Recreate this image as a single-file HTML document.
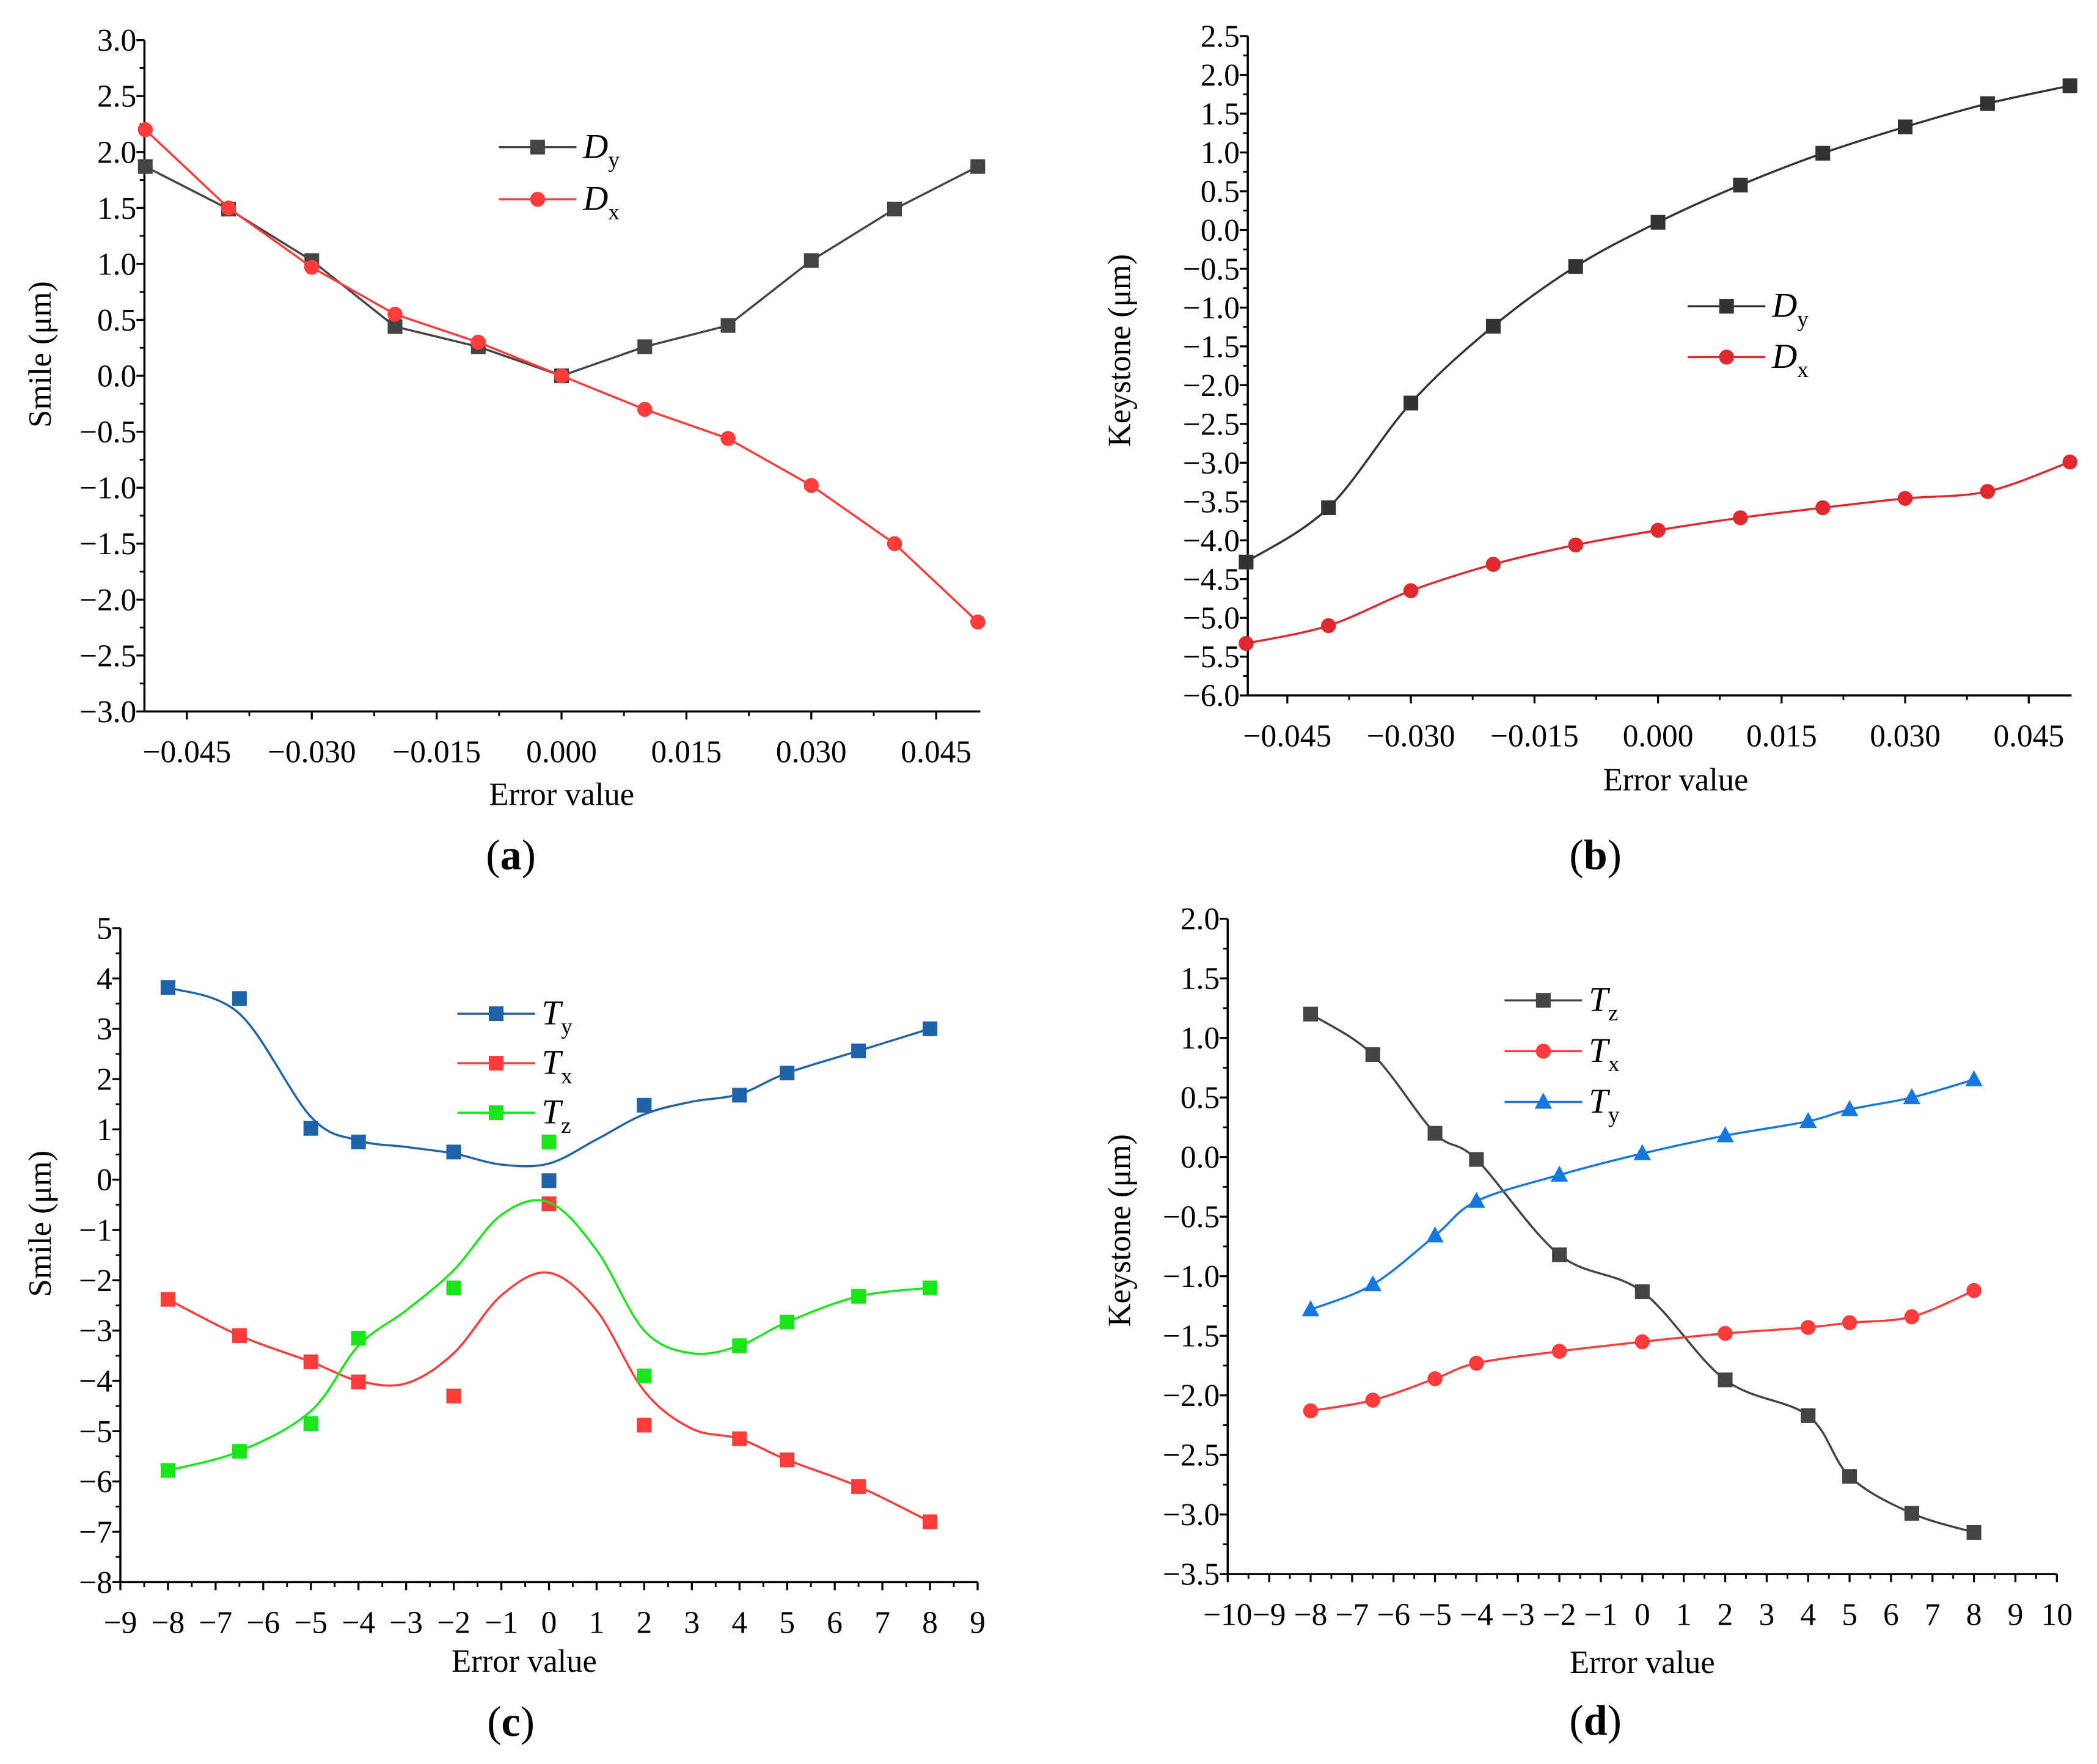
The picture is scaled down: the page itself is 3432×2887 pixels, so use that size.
<!DOCTYPE html>
<html><head><meta charset="utf-8">
<style>
html,body{margin:0;padding:0;background:#fff;}
svg{display:block;font-family:"Liberation Serif","Times New Roman",serif;}
svg text{font-family:"Liberation Serif","Times New Roman",serif;fill:#000;}
</style></head>
<body>
<svg id="fig" width="3432" height="2887" viewBox="0 0 1568 1319" preserveAspectRatio="none" xmlns="http://www.w3.org/2000/svg" font-family="Liberation Serif, serif">
<rect width="1568" height="1319" fill="#fff"/>
</svg>
<script>
// ---- Panel (a) data ----
const aX = [-0.05,-0.04,-0.03,-0.02,-0.01,0,0.01,0.02,0.03,0.04,0.05];
const aDy = [1.87,1.49,1.03,0.44,0.26,0,0.26,0.45,1.03,1.49,1.87];
const aDx = [2.2,1.5,0.97,0.55,0.3,0,-0.3,-0.56,-0.98,-1.5,-2.2];
const aXTicks = [-0.045,-0.030,-0.015,0,0.015,0.030,0.045];
const aXTickLabels = ["−0.045","−0.030","−0.015","0.000","0.015","0.030","0.045"];
const aYTicks = [3,2.5,2,1.5,1,0.5,0,-0.5,-1,-1.5,-2,-2.5,-3];
// ---- Panel (b) data ----
const bX = [-0.05,-0.04,-0.03,-0.02,-0.01,0,0.01,0.02,0.03,0.04,0.05];
const bDy = [-4.28,-3.58,-2.23,-1.24,-0.47,0.1,0.58,0.99,1.33,1.63,1.86];
const bDx = [-5.33,-5.1,-4.65,-4.31,-4.06,-3.87,-3.71,-3.58,-3.46,-3.37,-2.99];
const bYTicks = [2.5,2,1.5,1,0.5,0,-0.5,-1,-1.5,-2,-2.5,-3,-3.5,-4,-4.5,-5,-5.5,-6];
// ---- Panel (c) data ----
const cX = [-8,-6.5,-5,-4,-2,0,2,4,5,6.5,8];
const cTy = [3.82,3.6,1.02,0.75,0.55,-0.02,1.48,1.68,2.12,2.56,3.0];
const cTx = [-2.38,-3.1,-3.62,-4.02,-4.3,-0.48,-4.88,-5.15,-5.57,-6.1,-6.8];
const cTz = [-5.78,-5.4,-4.85,-3.15,-2.15,0.75,-3.9,-3.3,-2.83,-2.32,-2.15];
const cFitX = [-8,-6.5,-5,-4,-3,-2,-1,0,1,2,3,4,5,6.5,8];
const cFitTy = [3.82,3.3,1.25,0.78,0.65,0.52,0.3,0.32,0.8,1.3,1.55,1.7,2.12,2.56,3.0];
const cFitTx = [-2.38,-3.1,-3.62,-4.0,-4.05,-3.45,-2.3,-1.85,-2.6,-4.2,-4.95,-5.15,-5.57,-6.1,-6.8];
const cFitTz = [-5.78,-5.4,-4.6,-3.3,-2.6,-1.8,-0.7,-0.45,-1.4,-3.0,-3.45,-3.3,-2.83,-2.32,-2.15];
const cXTicks = [-9,-8,-7,-6,-5,-4,-3,-2,-1,0,1,2,3,4,5,6,7,8,9];
const cYTicks = [5,4,3,2,1,0,-1,-2,-3,-4,-5,-6,-7,-8];
// ---- Panel (d) data ----
const dX = [-8,-6.5,-5,-4,-2,0,2,4,5,6.5,8];
const dTz = [1.2,0.86,0.2,-0.02,-0.82,-1.13,-1.87,-2.17,-2.68,-2.99,-3.15];
const dTx = [-2.13,-2.04,-1.86,-1.73,-1.63,-1.55,-1.48,-1.43,-1.39,-1.34,-1.12];
const dTy = [-1.28,-1.07,-0.66,-0.37,-0.15,0.03,0.18,0.3,0.4,0.5,0.65];
const dXTicks = [-10,-9,-8,-7,-6,-5,-4,-3,-2,-1,0,1,2,3,4,5,6,7,8,9,10];
const dYTicks = [2,1.5,1,0.5,0,-0.5,-1,-1.5,-2,-2.5,-3,-3.5];

const NS="http://www.w3.org/2000/svg";
const FONT="Liberation Serif, Times New Roman, serif";
const svg=document.getElementById('fig');
function el(tag,attrs,parent){const e=document.createElementNS(NS,tag);for(const k in attrs)e.setAttribute(k,attrs[k]);if(tag==='text')e.setAttribute('font-family',FONT);(parent||svg).appendChild(e);return e;}
function fmtNum(v,dec){const s=Math.abs(v).toFixed(dec);return (v<0?"−":"")+s;}

function makeAxes(g,o){
  const sx=v=>o.x0+(v-o.xmin)/(o.xmax-o.xmin)*(o.x1-o.x0);
  const sy=v=>o.y1-(v-o.ymin)/(o.ymax-o.ymin)*(o.y1-o.y0);
  const ax=el('g',{},g);
  
  
  el('line',{x1:o.x0,y1:o.y0,x2:o.x0,y2:o.y1,stroke:'#000','stroke-width':1.6},ax);
  el('line',{x1:o.x0,y1:o.y1,x2:o.x1,y2:o.y1,stroke:'#000','stroke-width':1.6},ax);
  o.yTicks.forEach((v,i)=>{
    const y=sy(v);
    el('line',{x1:o.x0-6,y1:y,x2:o.x0,y2:y,stroke:'#000','stroke-width':1.5},ax);
    const t=el('text',{x:o.x0-6,y:y+8,'text-anchor':'end','font-size':23.5},ax);
    
    
    t.textContent=fmtNum(v,o.yDec);
    if(i<o.yTicks.length-1){const m=sy((v+o.yTicks[i+1])/2);el('line',{x1:o.x0-3.5,y1:m,x2:o.x0,y2:m,stroke:'#000','stroke-width':1.3},ax);}
  });
  o.xTicks.forEach((v,i)=>{
    const x=sx(v);
    el('line',{x1:x,y1:o.y1,x2:x,y2:o.y1+6,stroke:'#000','stroke-width':1.5},ax);
    const t=el('text',{x:x,y:o.y1+38,'text-anchor':'middle','font-size':23.5},ax);
    
    
    t.textContent=o.xLabels?o.xLabels[i]:fmtNum(v,0);
    if(i<o.xTicks.length-1){const m=sx((v+o.xTicks[i+1])/2);el('line',{x1:m,y1:o.y1,x2:m,y2:o.y1+3.5,stroke:'#000','stroke-width':1.3},ax);}
  });
  return {sx,sy};
}
function pathStr(xs,ys,sx,sy,smooth){
  const p=xs.map((x,i)=>[sx(x),sy(ys[i])]);
  if(!smooth)return "M"+p.map(q=>q.join(",")).join("L");
  let d="M"+p[0].join(",");
  for(let i=0;i<p.length-1;i++){
    const p0=p[i-1]||p[i],p1=p[i],p2=p[i+1],p3=p[i+2]||p[i+1];
    const c1=[p1[0]+(p2[0]-p0[0])/6,p1[1]+(p2[1]-p0[1])/6];
    const c2=[p2[0]-(p3[0]-p1[0])/6,p2[1]-(p3[1]-p1[1])/6];
    d+="C"+c1.join(",")+" "+c2.join(",")+" "+p2.join(",");
  }
  return d;
}
function marker(g,type,x,y,color){
  let m;
  if(type==='sq')m=el('rect',{x:x-5.5,y:y-5.5,width:11,height:11,fill:color},g);
  else if(type==='ci')m=el('circle',{cx:x,cy:y,r:5.6,fill:color},g);
  else m=el('polygon',{points:`${x},${y-7} ${x-6.5},${y+5} ${x+6.5},${y+5}`,fill:color},g);
  
  
}
function series(g,name,xs,ys,sc,color,mk,smooth,fitX,fitY){
  const s=el('g',{},g);
  
  
  const ln=el('path',{d:pathStr(fitX||xs,fitY||ys,sc.sx,sc.sy,smooth),fill:'none',stroke:color,'stroke-width':1.6},s);
  
  
  xs.forEach((x,i)=>marker(s,mk,sc.sx(x),sc.sy(ys[i]),color));
}
function legend(g,x,y,entries){
  const lg=el('g',{},g);
  
  
  entries.forEach((e,i)=>{
    const yy=y+i*e.dy;
    const en=el('g',{},lg);
    
    
    el('line',{x1:x,y1:yy,x2:x+58,y2:yy,stroke:e.color,'stroke-width':1.6},en);
    marker(en,e.mk,x+29,yy,e.color);
    const t=el('text',{x:x+63,y:yy+8,'font-size':26,'font-style':'italic'},en);
    t.textContent=e.main;
    const s=el('tspan',{'font-size':17,'font-style':'normal',dy:7},t);
    s.textContent=e.sub;
  });
}
function titles(g,xt,xtx,xty,yt,ytx,yty,lab,labx,laby){
  const t1=el('text',{x:xtx,y:xty,'text-anchor':'middle','font-size':24},g);
  t1.textContent=xt;
  const t2=el('text',{x:ytx,y:yty,'text-anchor':'middle','font-size':24,transform:`rotate(-90 ${ytx} ${yty})`},g);
  t2.textContent=yt;
  const t3=el('text',{x:labx,y:laby,'text-anchor':'middle','font-size':32},g);
  
  t3.appendChild(document.createTextNode('('));
  const b=el('tspan',{'font-weight':'bold'},t3);b.textContent=lab;
  t3.appendChild(document.createTextNode(')'));
}
const GRAY='#444444',RED='#ff3b3b',BLUE='#1f63a8',GREEN='#19e619',BLUE2='#1577e0';

// Panel a
let g=el('g',{});
let sc=makeAxes(g,{x0:108,x1:733,y0:30,y1:532,xmin:-0.0501,xmax:0.0503,ymin:-3,ymax:3,yTicks:aYTicks,yDec:1,xTicks:aXTicks,xLabels:aXTickLabels});
series(g,'series-dy',aX,aDy,sc,GRAY,'sq',false);
series(g,'series-dx',aX,aDx,sc,RED,'ci',false);
legend(g,373,110,[{main:'D',sub:'y',color:GRAY,mk:'sq',dy:39},{main:'D',sub:'x',color:RED,mk:'ci',dy:39}]);
titles(g,'Error value',420,602,'Smile (μm)',38,265,'a',382,650);

// Panel b
g=el('g',{});
sc=makeAxes(g,{x0:933,x1:1549,y0:27,y1:520,xmin:-0.0498,xmax:0.0502,ymin:-6,ymax:2.5,yTicks:bYTicks,yDec:1,xTicks:aXTicks,xLabels:aXTickLabels});
series(g,'series-dy',bX,bDy,sc,'#333333','sq',true);
series(g,'series-dx',bX,bDx,sc,'#e0282f','ci',true);
legend(g,1262,229,[{main:'D',sub:'y',color:'#333333',mk:'sq',dy:38},{main:'D',sub:'x',color:'#e0282f',mk:'ci',dy:38}]);
titles(g,'Error value',1253,591,'Keystone  (μm)',845,262,'b',1193,650);

// Panel c
g=el('g',{});
sc=makeAxes(g,{x0:90,x1:731,y0:694,y1:1183,xmin:-9,xmax:9,ymin:-8,ymax:5,yTicks:cYTicks,yDec:0,xTicks:cXTicks});
series(g,'series-ty',cX,cTy,sc,BLUE,'sq',true,cFitX,cFitTy);
series(g,'series-tx',cX,cTx,sc,RED,'sq',true,cFitX,cFitTx);
series(g,'series-tz',cX,cTz,sc,GREEN,'sq',true,cFitX,cFitTz);
legend(g,342,758,[{main:'T',sub:'y',color:BLUE,mk:'sq',dy:37},{main:'T',sub:'x',color:RED,mk:'sq',dy:37},{main:'T',sub:'z',color:GREEN,mk:'sq',dy:37}]);
titles(g,'Error value',392,1250,'Smile (μm)',38,915,'c',382,1298);

// Panel d
g=el('g',{});
sc=makeAxes(g,{x0:918,x1:1538,y0:687,y1:1177,xmin:-10,xmax:10,ymin:-3.5,ymax:2,yTicks:dYTicks,yDec:1,xTicks:dXTicks});
series(g,'series-tz',dX,dTz,sc,GRAY,'sq',true);
series(g,'series-tx',dX,dTx,sc,RED,'ci',true);
series(g,'series-ty',dX,dTy,sc,BLUE2,'tri',true);
legend(g,1125,748,[{main:'T',sub:'z',color:GRAY,mk:'sq',dy:38},{main:'T',sub:'x',color:RED,mk:'ci',dy:38},{main:'T',sub:'y',color:BLUE2,mk:'tri',dy:38}]);
titles(g,'Error value',1228,1251,'Keystone  (μm)',845,920,'d',1193,1297);
</script>
</body></html>
